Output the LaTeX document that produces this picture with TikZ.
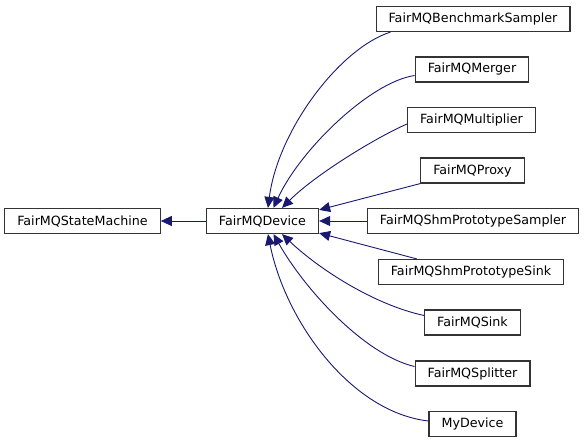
\documentclass[tikz,border=0pt]{standalone}
\usepackage{fontspec}
\setmainfont{DejaVu Sans}
\usetikzlibrary{arrows.meta, positioning, calc}
\definecolor{edgeblue}{HTML}{191970}

\begin{document}
\begin{tikzpicture}[x=1pt, y=-1pt,
                cls/.style={draw=black!80, line width=1.2pt, fill=white, inner xsep=12.5pt, minimum height=25pt, font=\fontsize{12.7}{14}\selectfont},
                inh/.style={draw=edgeblue, line width=0.9pt, -{Triangle[length=11pt, width=10pt]}}]
                \useasboundingbox (0,0) rectangle (584,443);
                \node[cls] (sm) at (82.5, 221) {FairMQStateMachine};
                \node[cls] (device) at (262.5, 221) {FairMQDevice};
                \node[cls] (bench) at (473, 19) {FairMQBenchmarkSampler};
                \node[cls] (merger) at (472, 69.5) {FairMQMerger};
                \node[cls] (mult) at (471.5, 120) {FairMQMultiplier};
                \node[cls] (proxy) at (472.5, 170.5) {FairMQProxy};
                \node[cls] (shmsampler) at (473, 221) {FairMQShmPrototypeSampler};
                \node[cls] (shmsink) at (471, 272) {FairMQShmPrototypeSink};
                \node[cls] (sink) at (472.5, 322.5) {FairMQSink};
                \node[cls] (splitter) at (472.5, 373.5) {FairMQSplitter};
                \node[cls] (mydevice) at (472.5, 424) {MyDevice};
                \draw[inh] (device.west) -- (sm.east);
                % upper children
                \draw[inh] ([xshift=15pt]bench.south west) .. controls (340,48) and (278,130) .. ([xshift=5.5pt]device.north);
                \draw[inh] ([yshift=-6pt]merger.west) .. controls (370,82) and (300,150) .. ([xshift=11pt]device.north);
                \draw[inh] ([yshift=-4pt]mult.west) .. controls (375,138) and (315,175) .. ([xshift=19.5pt]device.north);
                \draw[inh] (proxy.south west) -- ([yshift=-2pt]device.north east);
                \draw[inh] (shmsampler.west) -- (device.east);
                % lower children
                \draw[inh] ([xshift=39pt]shmsink.north west) -- ([yshift=1pt]device.south east);
                \draw[inh] ([yshift=7pt]sink.west) .. controls (375,305) and (320,270) .. ([xshift=19.5pt]device.south);
                \draw[inh] ([yshift=7pt]splitter.west) .. controls (365,355) and (305,290) .. ([xshift=11pt]device.south);
                \draw[inh] ([yshift=3pt]mydevice.west) .. controls (350,412) and (285,320) .. ([xshift=5.5pt]device.south);
            \end{tikzpicture}
\end{document}
